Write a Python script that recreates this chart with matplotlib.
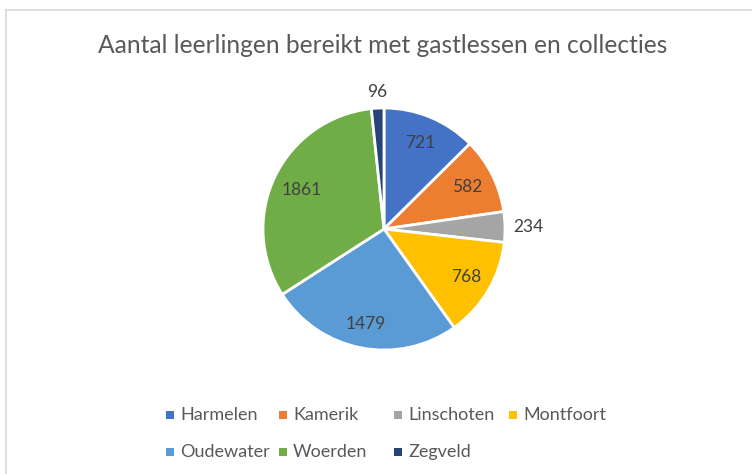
import matplotlib
matplotlib.use("Agg")
import matplotlib.pyplot as plt
import numpy as np

plt.rcParams["font.family"] = ["Lato", "DejaVu Sans"]

# data
plaatsen = ["Harmelen", "Kamerik", "Linschoten", "Montfoort",
            "Oudewater", "Woerden", "Zegveld"]
aantallen = [721, 582, 234, 768, 1479, 1861, 96]
kleuren = ["#4472C4", "#ED7D31", "#A5A5A5", "#FFC000",
           "#5B9BD5", "#70AD47", "#264478"]
titel = "Aantal leerlingen bereikt met gastlessen en collecties"

TXT = "#404040"
W, H = 752, 474

fig = plt.figure(figsize=(W / 100, H / 100), dpi=100)
fig.patch.set_facecolor("white")

# kader (rand van de Excel-grafiek)
fig.add_artist(plt.Line2D([6 / W, 1], [1 - 10 / H, 1 - 10 / H], color="#D9D9D9", lw=1.2))
fig.add_artist(plt.Line2D([6 / W, 6 / W], [0, 1 - 10 / H], color="#D9D9D9", lw=1.2))

fig.text(383 / W, 1 - 45 / H, titel, ha="center", va="center",
         fontsize=17.7, color="#595959")

# taart: middelpunt (384, 229), straal 121 px
r = 121
ax = fig.add_axes([(384 - r) / W, 1 - (229 + r) / H, 2 * r / W, 2 * r / H])
wedges, _ = ax.pie(aantallen, colors=kleuren, startangle=90, counterclock=False,
                   radius=1, wedgeprops=dict(edgecolor="white", linewidth=2))
ax.set_xlim(-1, 1); ax.set_ylim(-1, 1)
ax.set_aspect("equal")
ax.axis("off")

# label-afstand: binnen of buiten de taart
afstand = [0.77, 0.77, 1.19, 0.79, 0.8, 0.75, 1.13]
for w, n, d in zip(wedges, aantallen, afstand):
    a = np.deg2rad((w.theta1 + w.theta2) / 2)
    if n == 96:
        a = np.deg2rad(93)
    ax.text(d * np.cos(a), d * np.sin(a), str(n), ha="center", va="center",
            fontsize=12.5, color=TXT, clip_on=False)

# legenda: vaste kolombreedte zoals in Excel
kol_x = [170, 283, 398, 513]
rij_y = [415, 452]
for i, (p, c) in enumerate(zip(plaatsen, kleuren)):
    x = kol_x[i % 4]; y = rij_y[i // 4]
    fig.add_artist(plt.Rectangle(((x - 4) / W, 1 - (y + 4) / H), 8 / W, 8 / H,
                                 facecolor=c, edgecolor="none"))
    fig.text((x + 10) / W, 1 - y / H, p, ha="left", va="center",
             fontsize=13, color="#595959")

fig.savefig("out.png", dpi=100)
